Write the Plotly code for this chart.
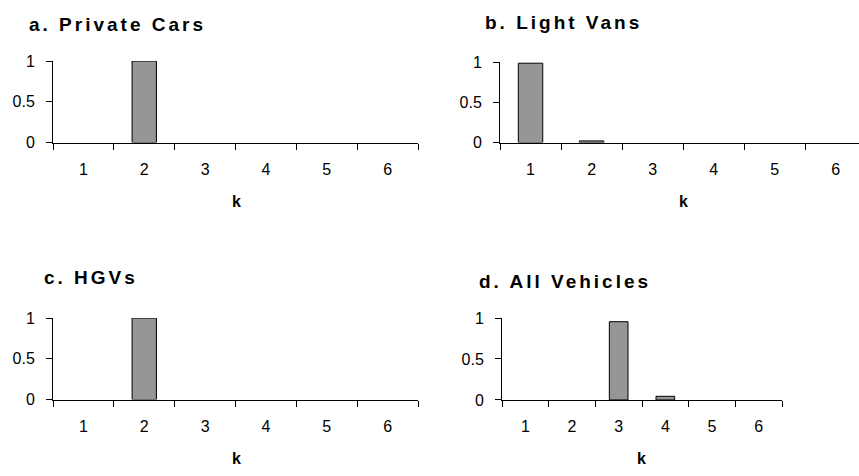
import plotly.graph_objects as go

W, H = 859, 476

categories = ["1", "2", "3", "4", "5", "6"]
private_cars = [0, 1.0, 0, 0, 0, 0]
light_vans = [0.985, 0.02, 0, 0, 0, 0]
hgvs = [0, 1.0, 0, 0, 0, 0]
all_vehicles = [0, 0, 0.955, 0.045, 0, 0]

panel_titles = ["a. Private Cars", "b. Light Vans", "c. HGVs", "d. All Vehicles"]
y_ticks = [0, 0.5, 1]
y_ticklabels = ["0", "0.5", "1"]

# panel boxes in pixels: (x0, x1, ytop, ybottom, xrange_max)
panels = [
    (53, 418, 55, 139.5, 5.5),
    (500, 859, 56, 139.5, 5.38),
    (53, 418, 321.5, 406, 5.5),
    (502, 782, 321.5, 406.5, 5.5),
]
series = [private_cars, light_vans, hgvs, all_vehicles]
title_pos = [(27, 17), (483, 15), (42, 279), (477, 284)]
k_pos = [(236, 201), (683, 201), (236, 467), (641, 467)]

fig = go.Figure()
font = "Liberation Sans, Arial, sans-serif"

for i, (vals, (x0, x1, yt, yb, xmax)) in enumerate(zip(series, panels)):
    n = "" if i == 0 else str(i + 1)
    fig.add_trace(go.Bar(
        x=categories, y=vals, xaxis="x" + n, yaxis="y" + n,
        marker=dict(color="#969696",
                    line=dict(color="#000000", width=[1 if v > 0 else 0 for v in vals])),
        showlegend=False,
    ))
    fig.layout["xaxis" + n] = dict(
        domain=[x0 / W, x1 / W], anchor="y" + n, type="category",
        range=[-0.5, xmax], tickson="boundaries", ticks="outside", ticklen=6,
        tickcolor="#000", showline=True, linecolor="#000", linewidth=1,
        showgrid=False, zeroline=False, fixedrange=True,
        tickfont=dict(family=font, size=16, color="#000"),
        ticklabelstandoff=12,
    )
    fig.layout["yaxis" + n] = dict(
        domain=[1 - yb / H, 1 - yt / H], anchor="x" + n, range=[0, 1],
        tickvals=y_ticks, ticktext=y_ticklabels, ticks="outside", ticklen=6,
        tickcolor="#000", showline=True, linecolor="#000", linewidth=1,
        showgrid=False, zeroline=False, fixedrange=True,
        tickfont=dict(family=font, size=16, color="#000"),
        ticklabelstandoff=8,
    )
    tx, ty = title_pos[i]
    fig.add_annotation(
        text='<span style="letter-spacing:3px">' + panel_titles[i] + "</span>",
        x=tx / W, y=1 - ty / H, xref="paper", yref="paper",
        xanchor="left", yanchor="middle", showarrow=False,
        font=dict(family=font, size=19, color="#000", weight="bold"),
    )
    kx, ky = k_pos[i]
    fig.add_annotation(
        text="<b>k</b>", x=kx / W, y=1 - ky / H, xref="paper", yref="paper",
        xanchor="center", yanchor="middle", showarrow=False,
        font=dict(family=font, size=16, color="#000"),
    )

fig.update_layout(
    width=W, height=H, margin=dict(l=0, r=0, t=0, b=0),
    paper_bgcolor="white", plot_bgcolor="white", bargap=0.6,
)

fig.write_html("out.html")
